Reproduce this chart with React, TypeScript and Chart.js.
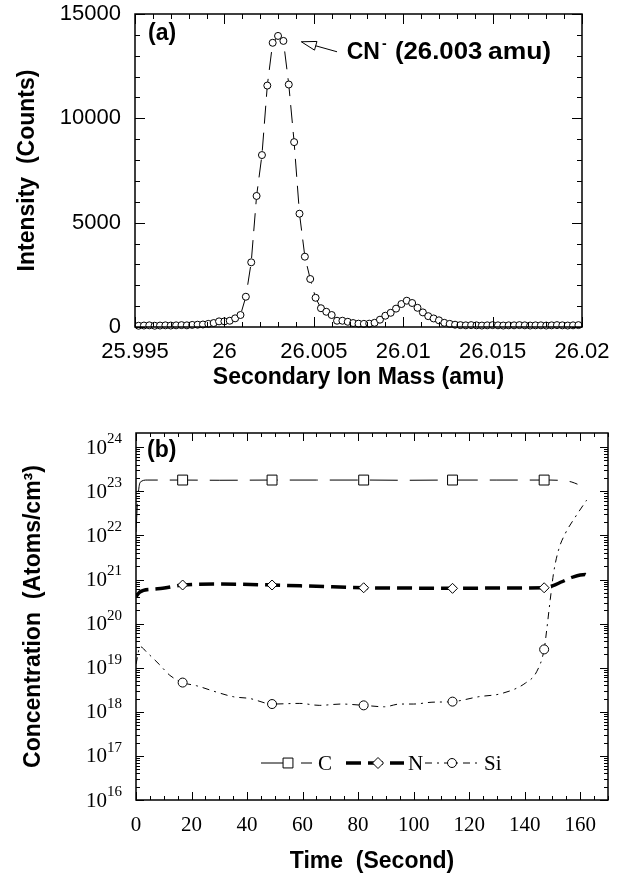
import React, { useEffect, useRef } from "react";
import { Chart, registerables } from "chart.js";
Chart.register(...registerables);

// ---------- (a) Secondary ion mass spectrum ----------
const MASS = [
  25.9952, 25.9955, 25.9958, 25.9961, 25.9964, 25.9967, 25.997, 25.9973, 25.9976, 25.9979,
  25.9982, 25.9985, 25.9988, 25.9991, 25.9994, 25.9997, 26.0, 26.0003, 26.0006, 26.0009,
  26.0012, 26.0015, 26.0018, 26.0021, 26.0024, 26.0027, 26.003, 26.0033, 26.0036, 26.0039,
  26.0042, 26.0045, 26.0048, 26.0051, 26.0054, 26.0057, 26.006, 26.0063, 26.0066, 26.0069,
  26.0072, 26.0075, 26.0078, 26.0081, 26.0084, 26.0087, 26.009, 26.0093, 26.0096, 26.0099,
  26.0102, 26.0105, 26.0108, 26.0111, 26.0114, 26.0117, 26.012, 26.0123, 26.0126, 26.0129,
  26.0132, 26.0135, 26.0138, 26.0141, 26.0144, 26.0147, 26.015, 26.0153, 26.0156, 26.0159,
  26.0162, 26.0165, 26.0168, 26.0171, 26.0174, 26.0177, 26.018, 26.0183, 26.0186, 26.0189,
  26.0192, 26.0195, 26.0198,
];
const INTENSITY = [
  60, 70, 80, 60, 70, 80, 70, 80, 90, 80,
  100, 110, 120, 150, 190, 270, 270, 300, 415, 575,
  1450, 3100, 6280, 8240, 11570, 13620, 13950, 13710, 11620, 8860,
  5430, 3370, 2300, 1400, 900, 730, 575, 300, 300, 250,
  190, 160, 150, 160, 200, 350, 540, 680, 880, 1100,
  1260, 1150, 920, 700, 520, 410, 320, 200, 150, 110,
  90, 80, 90, 80, 70, 80, 90, 80, 70, 80,
  80, 90, 80, 70, 80, 80, 70, 80, 90, 80,
  70, 80, 90,
];
const MASS_TICKS = [25.995, 26, 26.005, 26.01, 26.015, 26.02];
const INTENSITY_TICKS = [0, 5000, 10000, 15000];
const CN_LABEL_AT = [26.00684, 13130];
const ARROW_FROM = [26.0063, 13190];
const ARROW_TO = [26.0043, 13670];

// ---------- (b) Depth profile ----------
const TIME_TICKS = [0, 20, 40, 60, 80, 100, 120, 140, 160];
const DECADES = [16, 17, 18, 19, 20, 21, 22, 23, 24];
const MARKER_TIMES = [16.8, 49, 82, 114, 147];

const C_TIME = [0, 0.5, 1.5, 4, 16.8, 30, 49, 65, 82, 98, 114, 130, 147, 152, 155, 157, 159];
const C_CONC = [1.2e22, 5e22, 1.6e23, 1.8e23, 1.8e23, 1.78e23, 1.8e23, 1.8e23, 1.8e23, 1.78e23, 1.8e23, 1.8e23, 1.8e23, 1.78e23, 1.72e23, 1.62e23, 1.45e23];

const N_TIME = [0, 1.4, 5.6, 9.6, 16.8, 30, 49, 65, 82, 98, 114, 130, 147, 150, 153.4, 157.6, 161.8, 163];
const N_CONC = [4.1e20, 5.2e20, 6e20, 6.3e20, 7.5e20, 7.9e20, 7.5e20, 7e20, 6.5e20, 6.4e20, 6.3e20, 6.4e20, 6.5e20, 7.2e20, 8.9e20, 1.15e21, 1.3e21, 1.07e21];

const SI_TIME = [0, 1.5, 4, 8.6, 12.2, 16.8, 21.8, 29, 35, 41, 49, 59, 66, 74, 82, 89.5, 95, 100, 106.6, 114, 123.5, 131.7, 140.3, 144.3, 147, 147.9, 149.2, 150.4, 152.2, 154.6, 158.2, 162.3];
const SI_CONC = [1.2e19, 3e19, 2.2e19, 1.15e19, 6.7e18, 4.6e18, 3.9e18, 2.8e18, 2.2e18, 2e18, 1.5e18, 1.55e18, 1.4e18, 1.5e18, 1.4e18, 1.3e18, 1.5e18, 1.5e18, 1.65e18, 1.7e18, 2.2e18, 2.6e18, 4.5e18, 8.1e18, 2.6e19, 7e19, 3.5e20, 1.4e21, 4.7e21, 1.1e22, 2.6e22, 6.3e22];

const SANS = '"Liberation Sans", Arial, sans-serif';
const SERIF = '"Liberation Serif", "Times New Roman", serif';

type TickSpec = { xMajor: number[]; xMinor: number[]; yMajor: number[]; yMinor: number[]; majorLen: number; minorLen: number };

function frameTicks(spec: TickSpec) {
  return {
    id: "frameTicks",
    afterDraw(chart: any) {
      const { ctx, chartArea: a } = chart;
      const xs = chart.scales.x;
      const ys = chart.scales.y;
      ctx.save();
      ctx.strokeStyle = "#000";
      ctx.lineWidth = 1;
      ctx.setLineDash([]);
      ctx.beginPath();
      const tx = (v: number, len: number) => {
        const p = Math.round(xs.getPixelForValue(v)) + 0.5;
        if (p < a.left - 1 || p > a.right + 1) return;
        ctx.moveTo(p, a.bottom);
        ctx.lineTo(p, a.bottom - len);
        ctx.moveTo(p, a.top);
        ctx.lineTo(p, a.top + len);
      };
      const ty = (v: number, len: number) => {
        const p = Math.round(ys.getPixelForValue(v)) + 0.5;
        if (p < a.top - 1 || p > a.bottom + 1) return;
        ctx.moveTo(a.left, p);
        ctx.lineTo(a.left + len, p);
        ctx.moveTo(a.right, p);
        ctx.lineTo(a.right - len, p);
      };
      spec.xMinor.forEach((v) => tx(v, spec.minorLen));
      spec.xMajor.forEach((v) => tx(v, spec.majorLen));
      spec.yMinor.forEach((v) => ty(v, spec.minorLen));
      spec.yMajor.forEach((v) => ty(v, spec.majorLen));
      ctx.stroke();
      ctx.lineWidth = 1.5;
      ctx.strokeRect(a.left, a.top, a.right - a.left, a.bottom - a.top);
      ctx.restore();
    },
  };
}

function wideText(ctx: CanvasRenderingContext2D, text: string, x: number, y: number, sx: number) {
  ctx.save();
  ctx.translate(x, y);
  ctx.scale(sx, 1);
  ctx.fillText(text, 0, 0);
  ctx.restore();
}

const annotA = {
  id: "annotA",
  afterDraw(chart: any) {
    const { ctx, chartArea: a } = chart;
    const xs = chart.scales.x;
    const ys = chart.scales.y;
    ctx.save();
    ctx.fillStyle = "#000";
    ctx.strokeStyle = "#000";
    ctx.font = `bold 23px ${SANS}`;
    ctx.textBaseline = "middle";
    ctx.textAlign = "left";
    ctx.fillText("(a)", a.left + 13, a.top + 20);
    const lx = xs.getPixelForValue(CN_LABEL_AT[0]);
    const ly = ys.getPixelForValue(CN_LABEL_AT[1]);
    ctx.fillText("CN", lx, ly);
    const w = ctx.measureText("CN").width;
    ctx.font = `bold 14px ${SANS}`;
    ctx.fillText("-", lx + w + 2, ly - 9);
    ctx.font = `bold 23px ${SANS}`;
    wideText(ctx, "(26.003", lx + w + 15, ly, 1.12);
    wideText(ctx, "amu)", lx + w + 108, ly, 1.15);
    // arrow
    const fx = xs.getPixelForValue(ARROW_FROM[0]);
    const fy = ys.getPixelForValue(ARROW_FROM[1]);
    const hx = xs.getPixelForValue(ARROW_TO[0]);
    const hy = ys.getPixelForValue(ARROW_TO[1]);
    const ang = Math.atan2(fy - hy, fx - hx);
    const L = 15, H = 4.5;
    const bx = hx + L * Math.cos(ang), by = hy + L * Math.sin(ang);
    const px = -Math.sin(ang), py = Math.cos(ang);
    ctx.lineWidth = 1;
    ctx.beginPath();
    ctx.moveTo(hx, hy);
    ctx.lineTo(bx + H * px, by + H * py);
    ctx.lineTo(bx - H * px, by - H * py);
    ctx.closePath();
    ctx.moveTo(bx, by);
    ctx.lineTo(fx, fy);
    ctx.stroke();
    ctx.restore();
  },
};

function drawMarker(ctx: CanvasRenderingContext2D, style: string, x: number, y: number, r: number) {
  ctx.save();
  ctx.setLineDash([]);
  ctx.lineWidth = 1;
  ctx.fillStyle = "#fff";
  ctx.strokeStyle = "#000";
  ctx.beginPath();
  if (style === "rect") {
    const s = r * Math.SQRT1_2;
    ctx.rect(x - s, y - s, 2 * s, 2 * s);
  } else if (style === "rectRot") {
    ctx.moveTo(x - r, y);
    ctx.lineTo(x, y - r);
    ctx.lineTo(x + r, y);
    ctx.lineTo(x, y + r);
    ctx.closePath();
  } else {
    ctx.arc(x, y, r, 0, Math.PI * 2);
  }
  ctx.fill();
  ctx.stroke();
  ctx.restore();
}

const LEGEND_ITEMS = [
  { ds: 0, x0: 261, x1: 312, mx: 288, tx: 318, text: "C" },
  { ds: 1, x0: 346, x1: 404, mx: 378, tx: 408, text: "N" },
  { ds: 2, x0: 425, x1: 479, mx: 452, tx: 484, text: "Si" },
];

const annotB = {
  id: "annotB",
  afterDraw(chart: any) {
    const { ctx, chartArea: a } = chart;
    const ys = chart.scales.y;
    ctx.save();
    ctx.fillStyle = "#000";
    ctx.font = `bold 23px ${SANS}`;
    ctx.textBaseline = "middle";
    ctx.textAlign = "left";
    ctx.fillText("(b)", a.left + 11, a.top + 18);
    // log tick labels
    DECADES.forEach((e) => {
      const p = ys.getPixelForValue(Math.pow(10, e));
      ctx.font = `21px ${SERIF}`;
      ctx.textAlign = "right";
      ctx.textBaseline = "middle";
      ctx.fillText("10", a.left - 29, p + 1);
      ctx.font = `15px ${SERIF}`;
      ctx.textAlign = "left";
      ctx.fillText(String(e), a.left - 29, p - 8);
    });
    // legend
    const ly = a.bottom - 37;
    LEGEND_ITEMS.forEach((it) => {
      const ds = chart.data.datasets[it.ds];
      ctx.save();
      ctx.strokeStyle = "#000";
      ctx.lineWidth = ds.borderWidth;
      ctx.setLineDash(ds.borderDash || []);
      ctx.beginPath();
      ctx.moveTo(it.x0, ly);
      ctx.lineTo(it.x1, ly);
      ctx.stroke();
      ctx.restore();
      drawMarker(ctx, ds.pointStyle, it.mx, ly, ds.legendRadius);
      ctx.font = `21px ${SERIF}`;
      ctx.textAlign = "left";
      ctx.textBaseline = "middle";
      ctx.fillStyle = "#000";
      ctx.fillText(it.text, it.tx, ly + 1);
    });
    ctx.restore();
  },
};

function range(a: number, b: number, step: number) {
  const out: number[] = [];
  for (let v = a; v <= b + step * 1e-6; v += step) out.push(Math.round(v * 1e6) / 1e6);
  return out;
}

function logMinor() {
  const out: number[] = [];
  for (let e = 16; e < 24; e++) for (let m = 2; m <= 9; m++) out.push(m * Math.pow(10, e));
  return out;
}

const zeroPad = (s: any) => {
  s.paddingLeft = 0;
  s.paddingRight = 0;
  s.paddingTop = 0;
  s.paddingBottom = 0;
};

export default function App() {
  const topRef = useRef<HTMLCanvasElement>(null);
  const botRef = useRef<HTMLCanvasElement>(null);

  useEffect(() => {
    const c1 = new Chart(topRef.current as HTMLCanvasElement, {
      type: "line",
      data: {
        datasets: [
          {
            data: MASS.map((m, i) => ({ x: m, y: INTENSITY[i] })),
            borderColor: "#000",
            borderWidth: 1,
            borderDash: [18, 9],
            pointStyle: "circle",
            pointRadius: 3.5,
            pointBorderWidth: 1,
            pointBorderColor: "#000",
            pointBackgroundColor: "#fff",
            tension: 0,
            clip: false,
          } as any,
        ],
      },
      options: {
        responsive: false,
        animation: false,
        events: [],
        layout: { padding: { top: 14, right: 38, left: 0, bottom: 0 } },
        plugins: { legend: { display: false }, tooltip: { enabled: false } },
        scales: {
          x: {
            type: "linear",
            min: 25.995,
            max: 26.02,
            grid: { display: false, drawTicks: false },
            border: { display: false },
            afterBuildTicks: (s: any) => {
              s.ticks = MASS_TICKS.map((v) => ({ value: v }));
            },
            afterFit: (s: any) => {
              s.height = 73;
              zeroPad(s);
            },
            ticks: {
              padding: 12,
              color: "#000",
              font: { family: SANS, size: 22 },
              maxRotation: 0,
              callback: (v: any) => String(Number(v)),
            },
            title: {
              display: true,
              text: "Secondary Ion Mass (amu)",
              color: "#000",
              font: { family: SANS, size: 23, weight: "bold" },
              padding: { top: 0, bottom: 9 },
            },
          },
          y: {
            type: "linear",
            min: 0,
            max: 15000,
            grid: { display: false, drawTicks: false },
            border: { display: false },
            afterBuildTicks: (s: any) => {
              s.ticks = INTENSITY_TICKS.map((v) => ({ value: v }));
            },
            afterFit: (s: any) => {
              s.width = 135;
              zeroPad(s);
            },
            ticks: {
              padding: 14,
              color: "#000",
              font: { family: SANS, size: 22 },
              callback: (v: any) => String(v),
            },
            title: {
              display: true,
              text: "Intensity  (Counts)",
              color: "#000",
              font: { family: SANS, size: 23, weight: "bold" },
              padding: { top: 14, bottom: 0 },
            },
          },
        },
      } as any,
      plugins: [
        frameTicks({
          xMajor: MASS_TICKS,
          xMinor: range(25.995, 26.02, 0.001),
          yMajor: INTENSITY_TICKS,
          yMinor: range(0, 15000, 1000),
          majorLen: 10,
          minorLen: 5,
        }),
        annotA,
      ],
    });

    const markerRadius = (r: number) => (ctx: any) =>
      ctx.raw && MARKER_TIMES.includes(ctx.raw.x) ? r : 0;

    const c2 = new Chart(botRef.current as HTMLCanvasElement, {
      type: "line",
      data: {
        datasets: [
          {
            label: "C",
            data: C_TIME.map((t, i) => ({ x: t, y: C_CONC[i] })),
            borderColor: "#000",
            borderWidth: 1,
            borderDash: [28, 12],
            pointStyle: "rect",
            pointRadius: markerRadius(7),
            legendRadius: 7,
            pointBorderWidth: 1,
            pointBorderColor: "#000",
            pointBackgroundColor: "#fff",
            cubicInterpolationMode: "monotone",
          } as any,
          {
            label: "N",
            data: N_TIME.map((t, i) => ({ x: t, y: N_CONC[i] })),
            borderColor: "#000",
            borderWidth: 3.5,
            borderDash: [15, 7],
            pointStyle: "rectRot",
            pointRadius: markerRadius(5),
            legendRadius: 5.5,
            pointBorderWidth: 1,
            pointBorderColor: "#000",
            pointBackgroundColor: "#fff",
            cubicInterpolationMode: "monotone",
          } as any,
          {
            label: "Si",
            data: SI_TIME.map((t, i) => ({ x: t, y: SI_CONC[i] })),
            borderColor: "#000",
            borderWidth: 1,
            borderDash: [7, 5, 2, 5],
            pointStyle: "circle",
            pointRadius: markerRadius(4.5),
            legendRadius: 4.5,
            pointBorderWidth: 1,
            pointBorderColor: "#000",
            pointBackgroundColor: "#fff",
            cubicInterpolationMode: "monotone",
          } as any,
        ],
      },
      options: {
        responsive: false,
        animation: false,
        events: [],
        layout: { padding: { top: 33, right: 12, left: 0, bottom: 0 } },
        plugins: { legend: { display: false }, tooltip: { enabled: false } },
        scales: {
          x: {
            type: "linear",
            min: 0,
            max: 170,
            grid: { display: false, drawTicks: false },
            border: { display: false },
            afterBuildTicks: (s: any) => {
              s.ticks = TIME_TICKS.map((v) => ({ value: v }));
            },
            afterFit: (s: any) => {
              s.height = 75;
              zeroPad(s);
            },
            ticks: {
              padding: 13,
              color: "#000",
              font: { family: SERIF, size: 21 },
              maxRotation: 0,
              callback: (v: any) => String(v),
            },
            title: {
              display: true,
              text: "Time  (Second)",
              color: "#000",
              font: { family: SANS, size: 23, weight: "bold" },
              padding: { top: 0, bottom: 0 },
            },
          },
          y: {
            type: "logarithmic",
            min: 1e16,
            max: 2.1e24,
            grid: { display: false, drawTicks: false },
            border: { display: false },
            afterFit: (s: any) => {
              s.width = 136;
              zeroPad(s);
            },
            ticks: { display: false },
            title: {
              display: true,
              text: "Concentration  (Atoms/cm³)",
              color: "#000",
              font: { family: SANS, size: 23, weight: "bold" },
              padding: { top: 20, bottom: 0 },
            },
          },
        },
      } as any,
      plugins: [
        frameTicks({
          xMajor: TIME_TICKS,
          xMinor: range(0, 170, 5),
          yMajor: DECADES.map((e) => Math.pow(10, e)),
          yMinor: logMinor(),
          majorLen: 8,
          minorLen: 4,
        }),
        annotB,
      ],
    });

    return () => {
      c1.destroy();
      c2.destroy();
    };
  }, []);

  return (
    <div style={{ position: "absolute", left: 0, top: 0, width: 620, height: 875, background: "#fff" }}>
      <canvas
        ref={topRef}
        width={620}
        height={400}
        style={{ position: "absolute", left: 0, top: 0, width: 620, height: 400 }}
      />
      <canvas
        ref={botRef}
        width={620}
        height={475}
        style={{ position: "absolute", left: 0, top: 400, width: 620, height: 475 }}
      />
    </div>
  );
}
